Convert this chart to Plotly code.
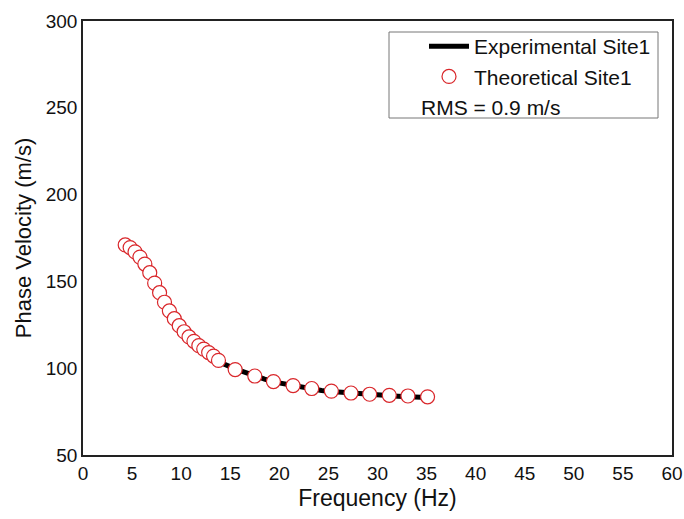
import plotly.graph_objects as go

# Theoretical (circles)
theo_freq = [4.3, 4.8, 5.3, 5.8, 6.3, 6.8, 7.3, 7.8, 8.3, 8.8, 9.3, 9.8, 10.3, 10.8,
             11.3, 11.8, 12.3, 12.8, 13.3, 13.8,
             15.5, 17.5, 19.4, 21.4, 23.3, 25.3, 27.3, 29.2, 31.2, 33.1, 35.1]
theo_vel = [171.0, 169.5, 167.0, 164.0, 160.0, 155.0, 149.0, 143.5, 138.0, 133.0, 128.5,
            124.5, 121.0, 118.0, 115.5, 113.0, 111.0, 109.0, 107.0, 104.5,
            99.2, 95.5, 92.3, 90.0, 88.3, 86.8, 85.7, 85.0, 84.4, 84.0, 83.5]

# Experimental (thick line)
exp_freq = [4.3, 5.3, 6.3, 7.3, 8.3, 9.3, 10.3, 11.3, 12.3, 13.3, 14.3, 15.5, 16.5,
            17.5, 18.5, 19.4, 20.4, 21.4, 22.4, 23.3, 24.3, 25.3, 26.3, 27.3, 28.3,
            29.2, 30.2, 31.2, 32.1, 33.1, 34.1, 35.1]
exp_vel = [170.5, 166.5, 160.5, 149.5, 137.5, 128.0, 120.5, 115.0, 110.5, 106.5, 102.5,
           99.6, 97.4, 95.4, 93.7, 92.1, 91.0, 89.8, 88.9, 88.0, 87.2, 86.6, 86.1, 85.5,
           85.0, 84.7, 84.3, 84.0, 83.8, 83.5, 83.3, 83.1]

x_ticks = [0, 5, 10, 15, 20, 25, 30, 35, 40, 45, 50, 55, 60]
y_ticks = [50, 100, 150, 200, 250, 300]

FONT = "Arial, Liberation Sans, sans-serif"
L, R, T, B = 83, 12, 21, 64
PW, PH = 684 - L - R, 519 - T - B

fig = go.Figure()
fig.add_trace(go.Scatter(
    x=exp_freq, y=exp_vel, mode="lines", name="Experimental Site1",
    line=dict(color="black", width=5),
))
fig.add_trace(go.Scatter(
    x=theo_freq, y=theo_vel, mode="markers", name="Theoretical Site1",
    marker=dict(symbol="circle", size=14, color="white",
                line=dict(color="#d9262a", width=1.2)),
))

fig.update_layout(
    width=684, height=519,
    margin=dict(l=L, r=R, t=T, b=B, autoexpand=False),
    paper_bgcolor="white", plot_bgcolor="white",
    font=dict(family=FONT, size=19, color="#111111"),
    showlegend=True,
    legend=dict(
        x=(424 - L) / PW, y=(519 - B - 26) / PH, xanchor="left", yanchor="top",
        bgcolor="rgba(0,0,0,0)", borderwidth=0,
        font=dict(family=FONT, size=21, color="#111111"),
        tracegroupgap=0, itemwidth=40,
    ),
    shapes=[dict(type="rect", xref="paper", yref="paper",
                 x0=(389 - L) / PW, x1=(658 - L) / PW,
                 y0=(519 - B - 118) / PH, y1=(519 - B - 32) / PH,
                 line=dict(color="#777777", width=1), fillcolor="rgba(0,0,0,0)",
                 layer="below")],
    annotations=[dict(text="RMS = 0.9 m/s", xref="paper", yref="paper",
                      x=(419 - L) / PW, y=(519 - B - 108) / PH,
                      xanchor="left", yanchor="middle", showarrow=False,
                      font=dict(family=FONT, size=21, color="#111111"))],
)
fig.update_xaxes(
    range=[0, 60], tickvals=x_ticks, ticks="", showgrid=False, zeroline=False,
    showline=True, linecolor="#222222", linewidth=1.5, mirror=True, automargin=False,
    title=dict(text="Frequency (Hz)", font=dict(family=FONT, size=23), standoff=7),
    tickfont=dict(family=FONT, size=19),
)
fig.update_yaxes(
    range=[50, 300], tickvals=y_ticks, ticks="", showgrid=False, zeroline=False,
    showline=True, linecolor="#222222", linewidth=1.5, mirror=True, automargin=False,
    title=dict(text="Phase Velocity (m/s)", font=dict(family=FONT, size=22), standoff=8),
    tickfont=dict(family=FONT, size=19),
)

fig.write_html("out.html")
